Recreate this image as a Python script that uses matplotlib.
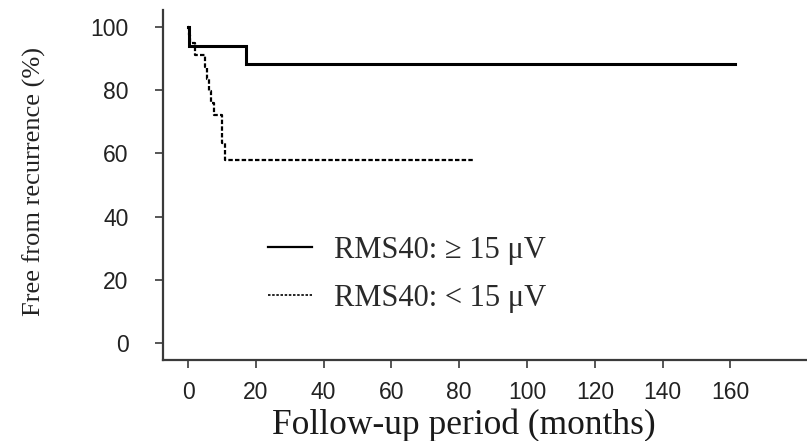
import matplotlib
matplotlib.use("Agg")
import matplotlib.pyplot as plt
from matplotlib.lines import Line2D

# Data
high_t = [0, 0.3, 17.1, 161.4]
high_s = [100, 94.1, 88.2, 88.2]
low_t = [0, 0.2, 0.5, 2.1, 5.0, 5.6, 6.2, 6.8, 7.5, 9.9, 10.9, 84.7]
low_s = [100, 97.4, 94.8, 91.1, 87.3, 83.5, 79.7, 75.9, 72.2, 63.2, 57.9, 57.9]
labels = ["RMS40: \u2265 15 \u03bcV", "RMS40: < 15 \u03bcV"]
xticks = [0, 20, 40, 60, 80, 100, 120, 140, 160]
yticks = [0, 20, 40, 60, 80, 100]

W, H = 807, 441
fig = plt.figure(figsize=(W / 100, H / 100), dpi=100)
left, right, top, bottom = 163, 807, 10, 360
ax = fig.add_axes([left / W, 1 - bottom / H, (right - left) / W, (bottom - top) / H])

ax.step(high_t, high_s, where="post", color="black", lw=2.2, solid_joinstyle="miter")
ax.step(low_t, low_s, where="post", color="black", lw=1.6, linestyle=(0, (2, 1)))

ax.set_xlim(-7.4, 182.6)
ax.set_ylim(-5.4, 105.4)
ax.set_xticks(xticks)
ax.set_yticks(yticks)

for s in ["top", "right"]:
    ax.spines[s].set_visible(False)
for s in ["left", "bottom"]:
    ax.spines[s].set_color("#3a3a3a")
    ax.spines[s].set_linewidth(1.6)

ax.tick_params(axis="y", length=5.8, width=1.2, color="#3a3a3a", pad=19)
ax.tick_params(axis="x", length=5.8, width=1.2, color="#3a3a3a", pad=9)
for lab in ax.get_xticklabels() + ax.get_yticklabels():
    lab.set_fontfamily("Liberation Sans")
    lab.set_fontsize(16.5)
    lab.set_color("#222222")

handles = [Line2D([], [], color="black", lw=1.6),
           Line2D([], [], color="black", lw=1.2, linestyle=(0, (1.5, 1)))]
leg = ax.legend(handles, labels, loc="center left",
                bbox_to_anchor=(268 / W, 1 - 274.5 / H),
                bbox_transform=fig.transFigure, frameon=False,
                prop={"family": "Liberation Serif", "size": 22},
                handlelength=1.45, handletextpad=0.72, borderpad=0,
                borderaxespad=0, labelspacing=0.62)
for t in leg.get_texts():
    t.set_color("#2a2a2a")

fig.text(464 / W, 1 - 425 / H, "Follow-up period (months)", ha="center", va="center",
         family="Liberation Serif", fontsize=25.5, color="#1a1a1a")
fig.text(34 / W, 1 - 181 / H, "Free from recurrence (%)", ha="center", va="center",
         rotation=90, family="Liberation Serif", fontsize=19, color="#222222")

fig.savefig("out.png", dpi=100)
